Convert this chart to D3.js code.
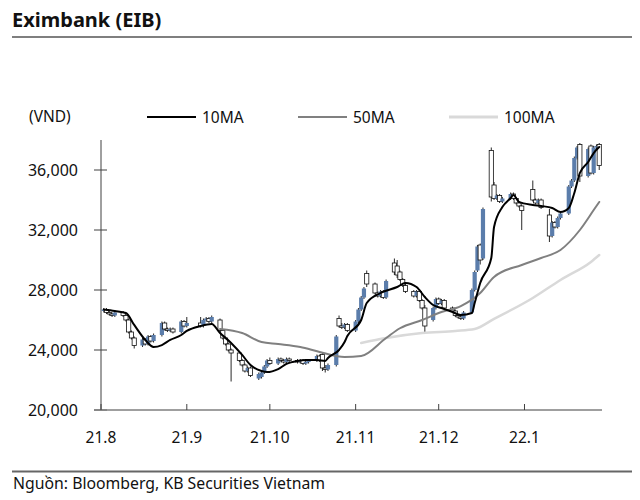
<!DOCTYPE html>
<html><head><meta charset="utf-8">
<script src="https://cdn.jsdelivr.net/npm/d3@7"></script>
<style>
html,body{margin:0;padding:0;background:#fff;}
svg{display:block;}
text{font-family:"Noto Sans",sans-serif;fill:#111;}
</style></head>
<body>
<svg id="chart" width="640" height="500"></svg>
<script>
const title = "Eximbank (EIB)";
const unitLabel = "(VND)";
const sourceText = "Nguồn: Bloomberg, KB Securities Vietnam";
const seriesNames = ["10MA", "50MA", "100MA"];

const dates = [
"2021-08-02","2021-08-03","2021-08-04","2021-08-05","2021-08-06","2021-08-09","2021-08-10","2021-08-11","2021-08-12","2021-08-13",
"2021-08-16","2021-08-17","2021-08-18","2021-08-19","2021-08-20","2021-08-23","2021-08-24","2021-08-25","2021-08-26","2021-08-27",
"2021-08-30","2021-08-31","2021-09-01","2021-09-06","2021-09-07","2021-09-08","2021-09-09","2021-09-10","2021-09-13","2021-09-14",
"2021-09-15","2021-09-16","2021-09-17","2021-09-20","2021-09-21","2021-09-22","2021-09-23","2021-09-24","2021-09-27","2021-09-28",
"2021-09-29","2021-09-30","2021-10-01","2021-10-04","2021-10-05","2021-10-06","2021-10-07","2021-10-08","2021-10-11","2021-10-12",
"2021-10-13","2021-10-14","2021-10-15","2021-10-18","2021-10-19","2021-10-20","2021-10-21","2021-10-22","2021-10-25","2021-10-26",
"2021-10-27","2021-10-28","2021-10-29","2021-11-01","2021-11-02","2021-11-03","2021-11-04","2021-11-05","2021-11-08","2021-11-09",
"2021-11-10","2021-11-11","2021-11-12","2021-11-15","2021-11-16","2021-11-17","2021-11-18","2021-11-19","2021-11-22","2021-11-23",
"2021-11-24","2021-11-25","2021-11-26","2021-11-29","2021-11-30","2021-12-01","2021-12-02","2021-12-03","2021-12-06","2021-12-07",
"2021-12-08","2021-12-09","2021-12-10","2021-12-13","2021-12-14","2021-12-15","2021-12-16","2021-12-17","2021-12-20","2021-12-21",
"2021-12-22","2021-12-23","2021-12-24","2021-12-27","2021-12-28","2021-12-29","2021-12-30","2021-12-31","2022-01-04","2022-01-05",
"2022-01-06","2022-01-07","2022-01-10","2022-01-11","2022-01-12","2022-01-13","2022-01-14","2022-01-17","2022-01-18","2022-01-19",
"2022-01-20","2022-01-21","2022-01-24","2022-01-25","2022-01-26","2022-01-27","2022-01-28"];

const opens = [
26600,26700,26500,26400,26300,26500,26300,26000,25200,24800,
24300,24700,24400,24900,24600,25000,25800,25400,25300,25400,
25200,25900,25600,25800,25600,26000,26100,25900,26000,25300,
24800,24400,24000,23800,23300,23000,22600,22800,22100,22200,
22500,22900,23300,23100,23400,23300,23200,23400,23300,23200,
23300,23100,23200,23300,23600,23700,22800,22700,23000,26100,
25600,25500,25700,25300,25900,26700,27500,29100,28400,27800,
27600,27900,27500,29800,29600,29200,28700,28300,27900,27600,
27900,27300,26800,26000,26800,27400,27100,27300,26800,26600,
26300,26200,26100,26500,28000,29300,31000,30100,37300,35000,
34100,34300,33900,34100,34400,34100,33800,33600,34700,34000,
33800,34000,33000,31600,32500,32200,32800,33100,34900,35300,
36800,37700,35600,37600,35800,37500,37700];

const highs = [
26800,26800,26600,26500,26600,26600,26400,26100,25300,24900,
24800,24800,25000,25000,25100,25900,25900,25500,25500,25500,
26000,26000,26200,26200,26100,26200,26200,26300,26100,25400,
24900,24500,24100,23900,23400,23100,22900,22900,22500,22600,
23000,23400,23500,23500,23500,23400,23500,23500,23400,23400,
23400,23300,23400,23700,23700,23800,23000,23100,25000,26300,
25800,25800,25800,26000,26800,27600,28200,29300,28500,27900,
28000,28000,28700,30100,30000,29300,28800,28400,28000,28000,
28000,27400,27000,26900,27500,27500,27400,27400,26900,26700,
26400,26300,26600,28100,29300,31000,31100,33500,37500,35200,
34400,34400,34200,34500,34500,34200,33900,33700,35300,34100,
34100,34100,33400,32600,32600,32900,33200,35000,35400,36900,
37600,37800,37500,37700,37600,37700,37800];

const lows = [
26500,26400,26300,26200,26200,26200,25900,25100,24700,24100,
24200,24300,24300,24500,24500,24900,25300,25200,25200,25100,
25100,25500,25500,25500,25500,25900,25800,25800,25200,24700,
24300,23900,21900,23200,22900,22500,22500,22200,22000,22100,
22400,22800,23000,23000,23200,23100,23100,23200,23100,23100,
23000,23000,23100,23200,23200,22600,22500,22600,22900,25500,
25400,25400,25200,25200,25800,26600,27400,28200,27700,27500,
27500,27400,27400,29000,28800,28600,28200,27800,27500,27500,
27200,26700,25200,25900,26700,27000,27000,26700,26500,26200,
26100,26000,26000,26400,27900,29200,29700,30000,33900,34000,
34000,33800,33800,34000,34000,33700,33500,32000,33900,33700,
33700,33400,31200,31500,32100,32100,32700,33000,34800,35200,
36700,35200,35500,35700,35700,37400,36000];

const closes = [
26700,26500,26400,26300,26500,26300,26000,25200,24800,24300,
24700,24400,24900,24600,25000,25800,25400,25300,25400,25200,
25900,25600,25800,25600,26000,26100,25900,26200,25300,24800,
24400,24000,23800,23300,23000,22600,22800,22300,22400,22500,
22900,23300,23100,23400,23300,23200,23400,23300,23200,23300,
23100,23200,23300,23600,23300,22800,22700,23000,24900,25600,
25500,25700,25300,25900,26700,27500,28100,28400,27800,27600,
27900,27500,28600,29200,29000,28700,28300,27900,27600,27900,
27300,26800,25600,26800,27400,27100,27300,26800,26600,26300,
26200,26100,26500,28000,29200,30900,30000,33400,34200,34100,
34300,33900,34100,34400,34100,33800,33600,33300,34000,33800,
34000,33500,31600,32500,32200,32800,33100,34900,35300,36800,
37500,35600,37400,35800,37500,37600,36300];

const ma10Dates = ["2021-08-02","2021-08-06","2021-08-10","2021-08-13","2021-08-17","2021-08-20","2021-08-23","2021-08-26","2021-08-30","2021-09-01",
"2021-09-06","2021-09-10","2021-09-13","2021-09-17","2021-09-21","2021-09-24","2021-09-28","2021-09-30","2021-10-04","2021-10-07",
"2021-10-11","2021-10-14","2021-10-18","2021-10-21","2021-10-22","2021-10-26","2021-10-28","2021-10-29","2021-11-03","2021-11-05",
"2021-11-10","2021-11-16","2021-11-19","2021-11-23","2021-11-26","2021-11-29","2021-12-02","2021-12-06","2021-12-09","2021-12-13",
"2021-12-14","2021-12-16","2021-12-20","2021-12-21","2021-12-24","2021-12-27","2021-12-28","2021-12-30","2022-01-04","2022-01-07",
"2022-01-11","2022-01-14","2022-01-17","2022-01-19","2022-01-21","2022-01-24","2022-01-26","2022-01-28"];
const ma10 = [26700,26600,26470,25670,24670,24200,24330,24670,25000,25270,
25600,25730,25130,24470,23670,23000,22600,22530,22730,23070,
23270,23330,23330,23270,23470,24000,24530,24930,26000,27130,
27800,28200,28470,28200,27530,27000,26800,26530,26330,26470,
27130,28470,30130,32200,33530,34130,34330,33870,33670,33600,
33470,33200,33470,34470,35800,36530,37130,37530];

const ma50Dates = ["2021-09-13","2021-09-21","2021-09-28","2021-10-04","2021-10-12","2021-10-19","2021-10-28","2021-11-03","2021-11-12","2021-11-17",
"2021-11-25","2021-12-02","2021-12-09","2021-12-16","2021-12-21","2021-12-31","2022-01-07","2022-01-14","2022-01-21","2022-01-26","2022-01-28"];
const ma50 = [25400,25130,24530,24400,24200,23870,23530,23600,24800,25450,
26000,26530,26930,27800,28870,29670,30130,30670,32000,33330,33870];

const ma100Dates = ["2021-11-03","2021-11-12","2021-11-25","2021-12-07","2021-12-14","2021-12-21","2022-01-04","2022-01-14","2022-01-25","2022-01-28"];
const ma100 = [24470,24800,25130,25270,25400,26070,27470,28670,29870,30330];

const yTicks = [20000, 24000, 28000, 32000, 36000];
const xTickDates = ["2021-08-01","2021-09-01","2021-10-01","2021-11-01","2021-12-01","2022-01-01"];
const xTickLabels = ["21.8","21.9","21.10","21.11","21.12","22.1"];

const parse = d3.timeParse("%Y-%m-%d");
const candles = dates.map((d, i) => ({date: parse(d), o: opens[i], h: highs[i], l: lows[i], c: closes[i]}));
const maSeries = [
  {name: seriesNames[0], pts: ma10Dates.map((d, i) => ({date: parse(d), v: ma10[i]})), color: "#000000", width: 2},
  {name: seriesNames[1], pts: ma50Dates.map((d, i) => ({date: parse(d), v: ma50[i]})), color: "#808080", width: 2},
  {name: seriesNames[2], pts: ma100Dates.map((d, i) => ({date: parse(d), v: ma100[i]})), color: "#d9d9d9", width: 2.5}
];

const svg = d3.select("#chart");
const x = d3.scaleTime().domain([parse("2021-08-01"), parse("2022-01-29")]).range([101, 602]);
const y = d3.scaleLinear().domain([20000, 38000]).range([410, 140]);

// Title
svg.append("text").attr("x", 12).attr("y", 27).attr("font-size", 20).attr("font-weight", "bold").text(title);
svg.append("line").attr("x1", 12).attr("x2", 632).attr("y1", 37).attr("y2", 37).attr("stroke", "#555").attr("stroke-width", 1.5);

// Unit label
svg.append("text").attr("x", 29).attr("y", 122).attr("font-size", 15.5).text(unitLabel);

// Legend
const legendX = [147, 298, 449];
maSeries.forEach((s, i) => {
  svg.append("line").attr("x1", legendX[i]).attr("x2", legendX[i] + 49).attr("y1", 117).attr("y2", 117)
    .attr("stroke", s.color).attr("stroke-width", s.width === 2 ? 2 : 3);
  svg.append("text").attr("x", legendX[i] + 55).attr("y", 122.5).attr("font-size", 15.5).text(s.name);
});

// Y axis
const yAxis = svg.append("g");
yAxis.append("line").attr("x1", 101).attr("x2", 101).attr("y1", 140).attr("y2", 410).attr("stroke", "#404040").attr("stroke-width", 1);
yAxis.selectAll("line.tk").data(yTicks).join("line").attr("class", "tk")
  .attr("x1", 94).attr("x2", 107).attr("y1", d => y(d)).attr("y2", d => y(d)).attr("stroke", "#404040").attr("stroke-width", 1);
yAxis.selectAll("text").data(yTicks).join("text")
  .attr("x", 78).attr("y", d => y(d)).attr("dy", "0.35em").attr("text-anchor", "end").attr("font-size", 16)
  .text(d => d3.format(",")(d));

// X axis
const xAxis = svg.append("g");
xAxis.append("line").attr("x1", 94).attr("x2", 602).attr("y1", 410).attr("y2", 410).attr("stroke", "#7f7f7f").attr("stroke-width", 1.5);
xAxis.selectAll("line.tk").data(xTickDates).join("line").attr("class", "tk")
  .attr("x1", d => x(parse(d))).attr("x2", d => x(parse(d))).attr("y1", 410).attr("y2", 404)
  .attr("stroke", "#404040").attr("stroke-width", 1);
xAxis.selectAll("text").data(xTickDates).join("text")
  .attr("x", d => x(parse(d))).attr("y", 443).attr("text-anchor", "middle").attr("font-size", 15.5)
  .text((d, i) => xTickLabels[i]);

// Candles
const cw = 4.2;
const cg = svg.append("g");
cg.selectAll("line.wick").data(candles).join("line").attr("class", "wick")
  .attr("x1", d => x(d.date)).attr("x2", d => x(d.date)).attr("y1", d => y(d.h)).attr("y2", d => y(d.l))
  .attr("stroke", "#111").attr("stroke-width", 0.9);
cg.selectAll("rect").data(candles).join("rect")
  .attr("x", d => x(d.date) - cw / 2).attr("width", cw)
  .attr("y", d => y(Math.max(d.o, d.c))).attr("height", d => Math.max(1.5, Math.abs(y(d.o) - y(d.c))))
  .attr("fill", d => d.c >= d.o ? "#5b7dab" : "#ffffff")
  .attr("stroke", d => d.c >= d.o ? "none" : "#111").attr("stroke-width", 0.8);

// MA lines
const line = d3.line().x(d => x(d.date)).y(d => y(d.v)).curve(d3.curveMonotoneX);
maSeries.slice().reverse().forEach(s => {
  svg.append("path").attr("d", line(s.pts)).attr("fill", "none").attr("stroke", s.color).attr("stroke-width", s.width)
    .attr("stroke-linejoin", "round").attr("stroke-linecap", "round");
});

// Bottom rule and source
svg.append("line").attr("x1", 12).attr("x2", 632).attr("y1", 471.5).attr("y2", 471.5).attr("stroke", "#666").attr("stroke-width", 2);
svg.append("text").attr("x", 13).attr("y", 489).attr("font-size", 15.8).text(sourceText);
</script>
</body></html>
